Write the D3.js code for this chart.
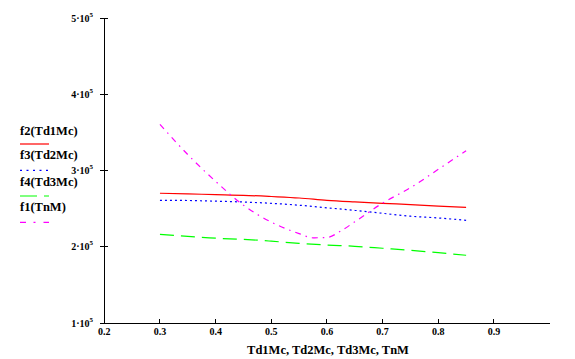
<!DOCTYPE html>
<html><head><meta charset="utf-8">
<script src="https://cdnjs.cloudflare.com/ajax/libs/d3/7.8.5/d3.min.js"></script>
<style>
html,body{margin:0;padding:0;background:#fff;}
svg{display:block;}
</style></head>
<body><svg id="c" width="575" height="359"></svg>
<script>
// ---- data ----
const xVals = [0.30,0.35,0.40,0.45,0.50,0.55,0.60,0.65,0.70,0.75,0.80,0.85];
const f2Vals = [2.704e5,2.695e5,2.686e5,2.677e5,2.661e5,2.642e5,2.611e5,2.590e5,2.572e5,2.556e5,2.536e5,2.520e5];
const f3Vals = [2.611e5,2.609e5,2.600e5,2.589e5,2.572e5,2.547e5,2.513e5,2.480e5,2.441e5,2.403e5,2.380e5,2.349e5];
const f4Vals = [2.166e5,2.140e5,2.115e5,2.100e5,2.076e5,2.048e5,2.026e5,2.009e5,1.983e5,1.956e5,1.925e5,1.891e5];
const f1X = [0.30,0.35,0.40,0.45,0.50,0.55,0.575,0.60,0.625,0.65,0.70,0.75,0.80,0.85];
const f1Vals = [3.607e5,3.21e5,2.86e5,2.547e5,2.326e5,2.175e5,2.12e5,2.125e5,2.21e5,2.33e5,2.575e5,2.776e5,3.017e5,3.262e5];
const xTicks = [0.2,0.3,0.4,0.5,0.6,0.7,0.8,0.9];
const yTicks = [1e5,2e5,3e5,4e5,5e5];
const yTickMantissa = ["1","2","3","4","5"];
const legendLabels = ["f2(Td1Mc)","f3(Td2Mc)","f4(Td3Mc)","f1(TnM)"];
const xTitle = "Td1Mc, Td2Mc, Td3Mc, TnM";

const FONT = "'Liberation Serif', 'Times New Roman', 'DejaVu Serif', serif";
const svg = d3.select("#c");
const x = d3.scaleLinear().domain([0.2,1.0]).range([104.3,549.6]);
const y = d3.scaleLinear().domain([1e5,5e5]).range([323.3,18]);

// axes
svg.append("line").attr("x1",x(0.2)).attr("x2",x(1.0)).attr("y1",y(1e5)).attr("y2",y(1e5)).attr("stroke","#000").attr("shape-rendering","crispEdges");
svg.append("line").attr("x1",x(0.2)).attr("x2",x(0.2)).attr("y1",y(1e5)).attr("y2",y(5e5)).attr("stroke","#000").attr("shape-rendering","crispEdges");

function txt(g){ return g.append("text").attr("font-family",FONT).attr("font-weight","bold").attr("fill","#000"); }

// x ticks
const xg = svg.append("g");
xTicks.forEach(t=>{
  xg.append("line").attr("x1",x(t)).attr("x2",x(t)).attr("y1",y(1e5)).attr("y2",y(1e5)-4).attr("stroke","#000").attr("shape-rendering","crispEdges");
  txt(xg).attr("x",x(t)).attr("y",335).attr("text-anchor","middle").attr("font-size","10px").text(d3.format(".1f")(t));
});
// y ticks
const yg = svg.append("g");
yTicks.forEach((t,i)=>{
  yg.append("line").attr("x1",x(0.2)-4).attr("x2",x(0.2)+4).attr("y1",y(t)).attr("y2",y(t)).attr("stroke","#000").attr("shape-rendering","crispEdges");
  const tx = txt(yg).attr("x",93).attr("y",y(t)+3.5).attr("text-anchor","end").attr("font-size","10px");
  tx.append("tspan").text(yTickMantissa[i]+"\u00b710");
  tx.append("tspan").attr("dy",-5).attr("font-size","7px").text("5");
});

// axis title
txt(svg).attr("x",328).attr("y",354).attr("text-anchor","middle").attr("font-size","12.5px").text(xTitle);

// series
const series = [
  {vals:f2Vals, xs:xVals, color:"#ff0000", dash:null},
  {vals:f3Vals, xs:xVals, color:"#0000ff", dash:"2,3"},
  {vals:f4Vals, xs:xVals, color:"#00ff00", dash:"14,7"},
  {vals:f1Vals, xs:f1X, color:"#ff00ff", dash:"6,5,1.5,5"}
];
const line = d3.line().x(d=>x(d[0])).y(d=>y(d[1])).curve(d3.curveMonotoneX);
series.forEach(s=>{
  const pts = s.xs.map((xv,i)=>[xv,s.vals[i]]);
  const p = svg.append("path").attr("d",line(pts)).attr("fill","none").attr("stroke",s.color).attr("stroke-width",1.2);
  if(s.dash) p.attr("stroke-dasharray",s.dash);
});

// legend
const legDash = [null,"2,4.5","17,7","6,7.5,2,8"];
const legTextY = [134.5,159,186,211];
const legLineY = [144,170.3,196,222.3];
legendLabels.forEach((lab,i)=>{
  txt(svg).attr("x",20).attr("y",legTextY[i]).attr("font-size","12.5px").text(lab);
  const l = svg.append("line").attr("x1",20).attr("x2",49).attr("y1",legLineY[i]).attr("y2",legLineY[i]).attr("stroke",series[i].color).attr("stroke-width",1.2);
  if(legDash[i]) l.attr("stroke-dasharray",legDash[i]);
});
</script></body></html>
